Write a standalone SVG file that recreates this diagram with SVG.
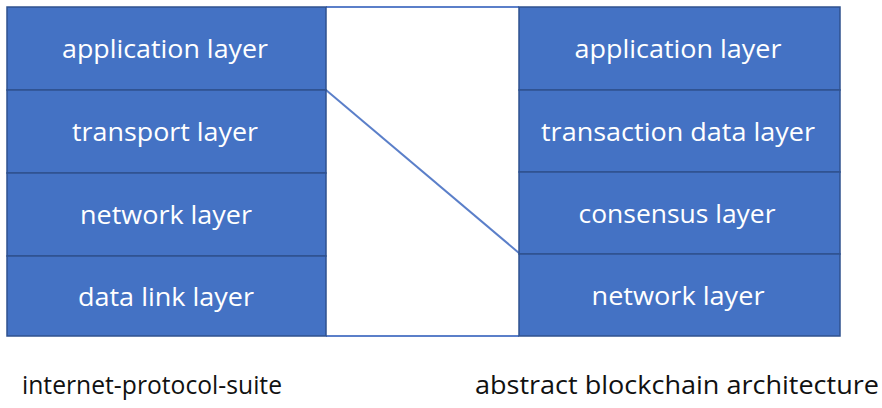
<svg xmlns="http://www.w3.org/2000/svg" width="882" height="408" viewBox="0 0 882 408">
<style>
.box{fill:#4472C4;stroke:#2F528F;stroke-width:1.5}
.t{fill:#fff;font-family:"Open Sans","Noto Sans",sans-serif;font-size:26px;text-anchor:middle;dominant-baseline:central}
.cap{fill:#111;font-family:"Open Sans","Noto Sans",sans-serif;font-size:25px;text-anchor:middle}
.ln{stroke:#5B7FC9;stroke-width:2;fill:none}
</style>
<rect width="882" height="408" fill="#fff"/>
<g id="connectors">
<line class="ln" x1="326" y1="7" x2="519" y2="7"/>
<line class="ln" x1="326" y1="336" x2="519" y2="336"/>
<line class="ln" x1="326" y1="90" x2="519" y2="253"/>
</g>
<g id="left-app"><rect class="box" x="7" y="7" width="319" height="83"/><text class="t" x="165" y="48" textLength="206" lengthAdjust="spacingAndGlyphs">application layer</text></g>
<g id="left-transport"><rect class="box" x="7" y="90" width="319" height="83"/><text class="t" x="165" y="131" textLength="186" lengthAdjust="spacingAndGlyphs">transport layer</text></g>
<g id="left-network"><rect class="box" x="7" y="173" width="319" height="83"/><text class="t" x="166" y="214" textLength="172" lengthAdjust="spacingAndGlyphs">network layer</text></g>
<g id="left-datalink"><rect class="box" x="7" y="256" width="319" height="80"/><text class="t" x="166" y="296" textLength="176" lengthAdjust="spacingAndGlyphs">data link layer</text></g>
<g id="right-app"><rect class="box" x="519" y="7" width="321" height="83"/><text class="t" x="678" y="48" textLength="207" lengthAdjust="spacingAndGlyphs">application layer</text></g>
<g id="right-transaction"><rect class="box" x="519" y="90" width="321" height="82"/><text class="t" x="678" y="131" textLength="274" lengthAdjust="spacingAndGlyphs">transaction data layer</text></g>
<g id="right-consensus"><rect class="box" x="519" y="172" width="321" height="82"/><text class="t" x="677" y="213" textLength="197" lengthAdjust="spacingAndGlyphs">consensus layer</text></g>
<g id="right-network"><rect class="box" x="519" y="254" width="321" height="82"/><text class="t" x="678" y="295" textLength="173" lengthAdjust="spacingAndGlyphs">network layer</text></g>
<g id="captions">
<text class="cap" x="152" y="394" textLength="260" lengthAdjust="spacingAndGlyphs">internet-protocol-suite</text>
<text class="cap" x="677" y="394" textLength="404" lengthAdjust="spacingAndGlyphs">abstract blockchain architecture</text>
</g>
</svg>
